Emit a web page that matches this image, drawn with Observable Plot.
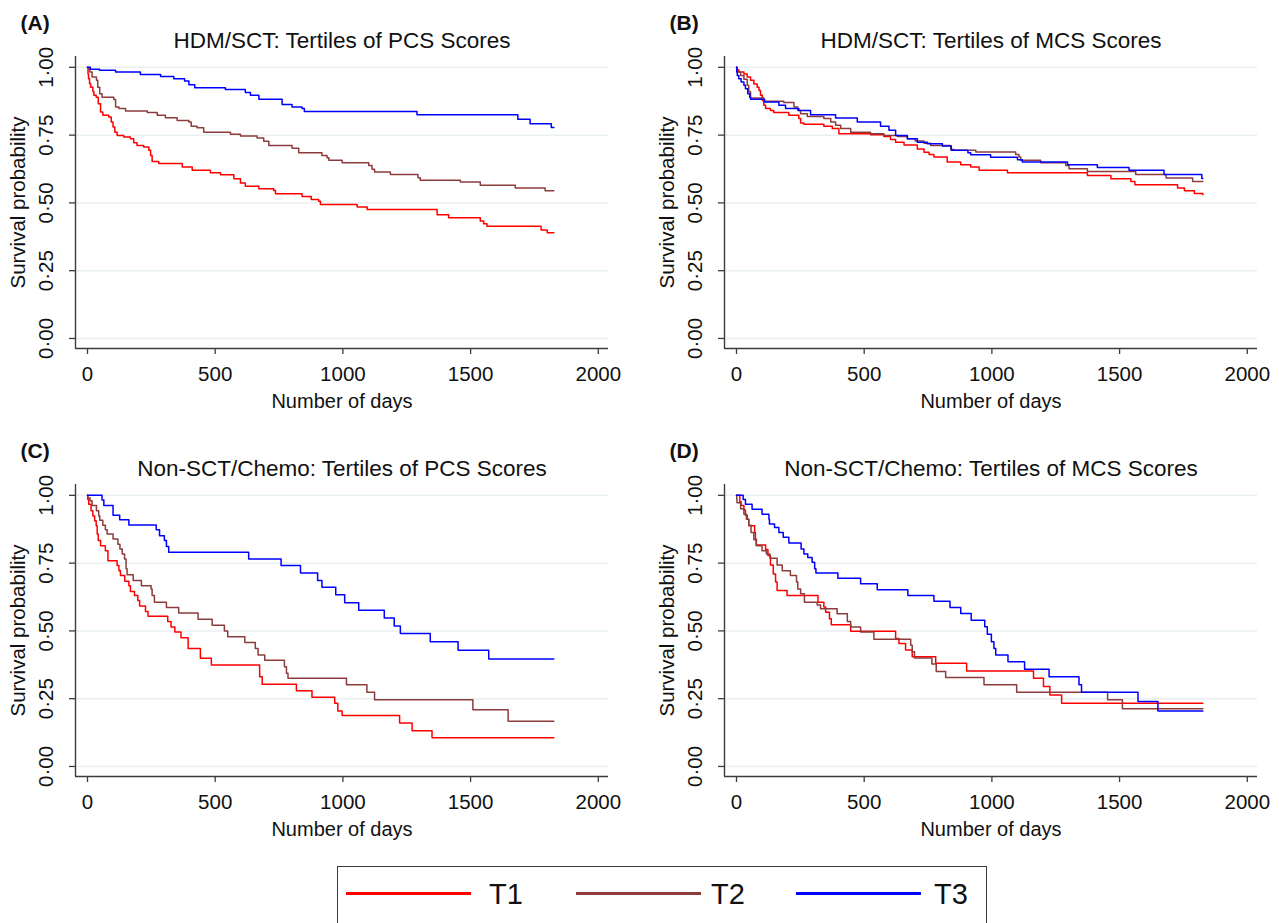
<!DOCTYPE html>
<html>
<head>
<meta charset="utf-8">
<script src="https://cdn.jsdelivr.net/npm/d3@7"></script>
<script src="https://cdn.jsdelivr.net/npm/@observablehq/plot@0.6"></script>
<style>
  html, body { margin: 0; padding: 0; background: #fff; }
  body { width: 1279px; height: 923px; position: relative; overflow: hidden;
         font-family: "Liberation Sans", Arial, sans-serif; }
  .panel { position: absolute; }
  .legend { position: absolute; left: 337px; top: 866px; width: 650px; height: 72px;
            border: 1.5px solid #3a3a3a; box-sizing: border-box; }
  .legend .ln { position: absolute; top: 25px; width: 125px; height: 3px; }
  .legend .lb { position: absolute; top: 9px; font-size: 29px; line-height: 36px; color: #111; }
</style>
</head>
<body>
<div id="root"></div>
<script>
// ---------- data: [day, survival probability] ----------
const seriesNames = ["T1", "T2", "T3"];
const seriesColors = ["#ff0000", "#8c3c3c", "#0000ff"];
const xTicks = [0, 500, 1000, 1500, 2000];
const yTicks = [0, 0.25, 0.5, 0.75, 1];
const yTickLabels = ["0·00", "0·25", "0·50", "0·75", "1·00"];
const panelLetters = ["(A)", "(B)", "(C)", "(D)"];
const panelTitles = [
  "HDM/SCT: Tertiles of PCS Scores",
  "HDM/SCT: Tertiles of MCS Scores",
  "Non-SCT/Chemo: Tertiles of PCS Scores",
  "Non-SCT/Chemo: Tertiles of MCS Scores"
];

const A_T1 = [[0,1],[2,0.975],[4,0.958],[8,0.94],[12,0.927],[21,0.911],[25,0.897],[34,0.89],[42,0.866],[51,0.835],[60,0.823],[83,0.817],[93,0.798],[100,0.78],[107,0.761],[116,0.749],[142,0.743],[168,0.737],[181,0.722],[194,0.712],[220,0.706],[240,0.694],[247,0.675],[253,0.653],[279,0.645],[371,0.632],[410,0.62],[481,0.611],[521,0.604],[573,0.589],[599,0.573],[618,0.561],[671,0.552],[729,0.546],[736,0.534],[840,0.524],[876,0.513],[905,0.506],[912,0.494],[1056,0.485],[1095,0.476],[1369,0.456],[1414,0.445],[1538,0.433],[1551,0.423],[1564,0.414],[1776,0.40],[1800,0.39],[1826,0.39]];
const A_T2 = [[0,1],[3,0.995],[9,0.983],[18,0.964],[35,0.952],[40,0.927],[48,0.903],[57,0.89],[103,0.881],[110,0.854],[123,0.848],[149,0.839],[234,0.833],[273,0.823],[305,0.814],[351,0.804],[397,0.798],[406,0.783],[429,0.777],[455,0.761],[560,0.753],[599,0.747],[664,0.739],[690,0.727],[710,0.712],[801,0.702],[827,0.685],[918,0.675],[938,0.667],[945,0.657],[997,0.648],[1101,0.638],[1114,0.624],[1124,0.614],[1186,0.605],[1294,0.593],[1303,0.584],[1460,0.577],[1538,0.565],[1675,0.555],[1792,0.545],[1826,0.545]];
const A_T3 = [[0,1],[11,0.993],[47,0.989],[110,0.983],[207,0.974],[286,0.966],[338,0.958],[380,0.95],[397,0.936],[420,0.925],[540,0.918],[618,0.907],[638,0.897],[671,0.882],[762,0.863],[801,0.854],[840,0.848],[849,0.837],[1290,0.825],[1685,0.809],[1733,0.792],[1816,0.778],[1826,0.778]];

const B_T1 = [[0,1],[1,0.991],[9,0.983],[29,0.975],[42,0.964],[55,0.952],[68,0.939],[81,0.927],[88,0.915],[94,0.897],[101,0.878],[107,0.86],[114,0.848],[133,0.841],[146,0.833],[205,0.823],[244,0.811],[251,0.795],[264,0.79],[342,0.783],[375,0.774],[401,0.755],[525,0.751],[577,0.745],[603,0.734],[623,0.724],[656,0.714],[708,0.699],[734,0.687],[754,0.679],[773,0.669],[825,0.651],[878,0.641],[917,0.632],[950,0.62],[1061,0.611],[1374,0.601],[1466,0.589],[1544,0.579],[1560,0.567],[1727,0.555],[1754,0.545],[1793,0.535],[1826,0.53]];
const B_T2 = [[0,1],[3,0.983],[16,0.97],[29,0.956],[42,0.934],[48,0.91],[55,0.887],[107,0.875],[185,0.87],[225,0.854],[240,0.841],[251,0.829],[277,0.819],[342,0.811],[369,0.798],[388,0.786],[408,0.774],[447,0.761],[525,0.755],[577,0.749],[630,0.745],[669,0.737],[700,0.728],[734,0.72],[760,0.712],[839,0.697],[852,0.694],[937,0.688],[1093,0.679],[1106,0.669],[1113,0.657],[1191,0.648],[1289,0.638],[1302,0.626],[1374,0.616],[1563,0.605],[1682,0.592],[1786,0.579],[1826,0.579]];
const B_T3 = [[0,1],[1,0.983],[3,0.97],[9,0.958],[18,0.946],[29,0.934],[35,0.921],[44,0.903],[52,0.89],[55,0.882],[110,0.872],[166,0.86],[192,0.848],[244,0.841],[290,0.825],[388,0.813],[473,0.798],[564,0.783],[597,0.768],[623,0.749],[669,0.737],[708,0.724],[747,0.718],[806,0.71],[841,0.694],[906,0.685],[917,0.678],[995,0.668],[1100,0.659],[1119,0.651],[1296,0.641],[1413,0.631],[1537,0.62],[1674,0.605],[1822,0.59],[1826,0.59]];

const C_T1 = [[0,1],[1,0.985],[5,0.967],[14,0.943],[21,0.924],[28,0.906],[34,0.888],[38,0.857],[42,0.833],[51,0.814],[70,0.796],[80,0.759],[116,0.741],[123,0.722],[129,0.704],[146,0.683],[162,0.667],[168,0.645],[184,0.631],[197,0.612],[204,0.592],[227,0.572],[237,0.554],[314,0.535],[327,0.514],[342,0.496],[366,0.475],[394,0.435],[442,0.399],[485,0.374],[674,0.331],[684,0.303],[818,0.279],[879,0.255],[968,0.233],[980,0.205],[997,0.188],[1222,0.16],[1271,0.132],[1349,0.106],[1826,0.106]];
const C_T2 = [[0,1],[1,0.99],[10,0.98],[18,0.963],[35,0.943],[44,0.924],[48,0.908],[60,0.89],[70,0.873],[77,0.857],[100,0.839],[119,0.82],[127,0.802],[136,0.784],[145,0.765],[151,0.729],[155,0.707],[179,0.686],[211,0.667],[249,0.655],[253,0.631],[262,0.606],[309,0.586],[357,0.566],[433,0.543],[488,0.521],[536,0.5],[549,0.478],[616,0.457],[657,0.435],[668,0.411],[694,0.392],[771,0.368],[779,0.344],[785,0.325],[1014,0.301],[1094,0.274],[1124,0.246],[1509,0.209],[1647,0.167],[1826,0.167]];
const C_T3 = [[0,1],[57,0.983],[64,0.963],[100,0.927],[126,0.91],[162,0.891],[269,0.873],[282,0.851],[301,0.833],[309,0.811],[318,0.79],[631,0.765],[758,0.741],[834,0.714],[901,0.686],[918,0.661],[972,0.633],[1007,0.604],[1062,0.576],[1162,0.548],[1201,0.518],[1225,0.49],[1342,0.46],[1451,0.429],[1571,0.396],[1826,0.396]];

const D_T1 = [[0,1],[13,0.976],[18,0.963],[29,0.946],[35,0.927],[42,0.912],[48,0.888],[71,0.863],[74,0.839],[77,0.817],[114,0.8],[123,0.778],[133,0.743],[144,0.71],[153,0.68],[159,0.649],[198,0.631],[319,0.606],[342,0.588],[349,0.569],[364,0.545],[371,0.523],[447,0.499],[623,0.472],[636,0.454],[662,0.43],[688,0.405],[780,0.381],[901,0.352],[1163,0.325],[1202,0.295],[1227,0.264],[1273,0.233],[1826,0.233]];
const D_T2 = [[0,1],[1,0.985],[2,0.973],[16,0.951],[29,0.93],[39,0.912],[48,0.89],[57,0.863],[68,0.836],[78,0.814],[100,0.796],[117,0.784],[131,0.768],[159,0.743],[179,0.722],[211,0.704],[235,0.68],[240,0.655],[251,0.637],[266,0.606],[316,0.596],[329,0.582],[394,0.563],[434,0.535],[447,0.514],[486,0.496],[538,0.469],[682,0.447],[688,0.423],[697,0.40],[765,0.378],[782,0.35],[819,0.328],[969,0.301],[1097,0.274],[1453,0.246],[1511,0.213],[1826,0.213]];
const D_T3 = [[0,1],[26,0.985],[35,0.967],[61,0.949],[100,0.93],[127,0.912],[129,0.894],[149,0.881],[166,0.863],[183,0.845],[205,0.824],[253,0.802],[264,0.784],[279,0.771],[296,0.753],[306,0.729],[311,0.714],[397,0.694],[486,0.674],[551,0.652],[671,0.631],[773,0.609],[836,0.586],[878,0.564],[919,0.539],[972,0.515],[982,0.488],[998,0.46],[1008,0.435],[1015,0.411],[1063,0.386],[1128,0.359],[1224,0.331],[1341,0.301],[1351,0.274],[1572,0.24],[1650,0.205],[1826,0.205]];

const panelSeries = [[A_T1, A_T2, A_T3], [B_T1, B_T2, B_T3], [C_T1, C_T2, C_T3], [D_T1, D_T2, D_T3]];

// ---------- layout ----------
const xDomain = [-47, 2040];
const yDomain = [-0.037, 1.04];
const layout = [
  {left: 0,   top: 0,   width: 640, marginLeft: 75, marginRight: 32},
  {left: 640, top: 0,   width: 639, marginLeft: 84, marginRight: 22},
  {left: 0,   top: 428, width: 640, marginLeft: 75, marginRight: 32},
  {left: 640, top: 428, width: 639, marginLeft: 84, marginRight: 22}
];
const axisColor = "#3c3c3c";
const gridColor = "#e9f0f2";
const font = "'Liberation Sans', Arial, sans-serif";

const root = document.getElementById("root");

panelSeries.forEach((series, i) => {
  const rows = [];
  series.forEach((pts, s) => pts.forEach(([day, surv]) => rows.push({day, surv, group: seriesNames[s]})));
  const L = layout[i];
  const yLab = yTicks.map((v, k) => ({v, label: yTickLabels[k]}));

  const chart = Plot.plot({
    width: L.width,
    height: 430,
    marginLeft: L.marginLeft,
    marginRight: L.marginRight,
    marginTop: 56,
    marginBottom: 82,
    style: {fontFamily: font, fontSize: "20px", color: "#111", background: "transparent", overflow: "visible"},
    x: {domain: xDomain, axis: null},
    y: {domain: yDomain, axis: null},
    color: {domain: seriesNames, range: seriesColors},
    marks: [
      Plot.gridY(yTicks, {stroke: gridColor, strokeOpacity: 1, strokeWidth: 1.5}),
      Plot.ruleX([xDomain[0]], {stroke: axisColor, strokeWidth: 1.4}),
      Plot.ruleY([yDomain[0]], {stroke: axisColor, strokeWidth: 1.4}),
      Plot.axisX({ticks: xTicks, tickSize: 6, tickPadding: 12, stroke: axisColor, strokeWidth: 1.3,
                  fill: "#111", fontSize: 20.5, label: null, tickFormat: d => String(d)}),
      Plot.axisY({ticks: yTicks, tickSize: 6, stroke: axisColor, strokeWidth: 1.3,
                  tickFormat: () => "", label: null}),
      Plot.text(yLab, {y: "v", text: "label", frameAnchor: "left", dx: -29, rotate: -90,
                       textAnchor: "middle", lineAnchor: "middle", fontSize: 20.5, fill: "#111"}),
      Plot.line(rows, {x: "day", y: "surv", z: "group", stroke: "group", curve: "step-after",
                       strokeWidth: 1.5}),
      Plot.text([panelTitles[i]], {frameAnchor: "top", dy: -16, lineAnchor: "middle",
                                   fontSize: 22.5, fill: "#111"}),
      Plot.text(["Number of days"], {frameAnchor: "bottom", dy: 53, lineAnchor: "middle",
                                     fontSize: 20, fill: "#111"}),
      Plot.text(["Survival probability"], {frameAnchor: "left", dx: -57, rotate: -90,
                                           textAnchor: "middle", lineAnchor: "middle",
                                           fontSize: 20.5, fill: "#111"}),
      Plot.text([panelLetters[i]], {frameAnchor: "top-left", dx: -55, dy: -33, textAnchor: "start",
                                    lineAnchor: "middle", fontSize: 21, fontWeight: "bold", fill: "#111"})
    ]
  });
  const div = document.createElement("div");
  div.className = "panel";
  div.style.left = L.left + "px";
  div.style.top = L.top + "px";
  div.appendChild(chart);
  root.appendChild(div);
});

// ---------- legend ----------
const legend = document.createElement("div");
legend.className = "legend";
const lineLefts = [8, 238, 458];
const labelLefts = [151, 373, 596];
seriesNames.forEach((name, s) => {
  const ln = document.createElement("div");
  ln.className = "ln";
  ln.style.left = lineLefts[s] + "px";
  ln.style.background = seriesColors[s];
  legend.appendChild(ln);
  const lb = document.createElement("div");
  lb.className = "lb";
  lb.style.left = labelLefts[s] + "px";
  lb.textContent = name;
  legend.appendChild(lb);
});
root.appendChild(legend);
</script>
</body>
</html>
